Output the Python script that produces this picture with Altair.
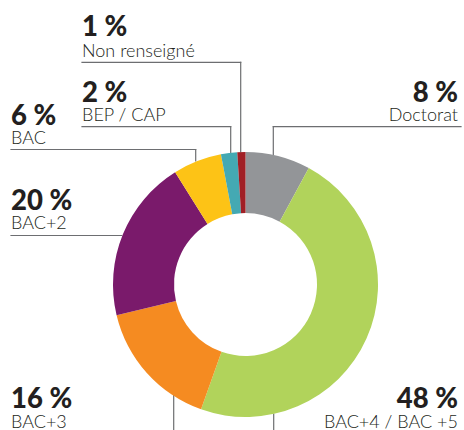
import altair as alt
import pandas as pd

# ---- data ----
categories = ["Doctorat", "BAC+4 / BAC +5", "BAC+3", "BAC+2", "BAC", "BEP / CAP", "Non renseigné"]
values = [8, 48, 16, 20, 6, 2, 1]
pct_labels = ["8 %", "48 %", "16 %", "20 %", "6 %", "2 %", "1 %"]
colors = ["#939598", "#b1d35b", "#f58b21", "#7a1a6b", "#fdc316", "#44a9b3", "#a11f25"]

# ---- annotation layout (pixel space of the 464x430 canvas) ----
label_x = [458, 458, 11, 11, 11, 82, 82]
label_align = ["right", "right", "left", "left", "left", "left", "left"]
pct_baseline = [102, 407.5, 407.5, 210, 125, 102, 36]
name_baseline = [121, 428, 428, 228.5, 143.5, 121, 56.5]

leader_x = [461, 273.3, 273.7, 173.7, 11, 11, 195.7, 82, 230.7, 82, 240.7]
leader_y = [126.7, 126.7, 414, 395, 235.5, 149.5, 149.5, 126.7, 126.7, 62.3, 62.3]
leader_x2 = [273.3, 273.3, 273.7, 173.7, 121.7, 195.7, 195.7, 230.7, 230.7, 240.7, 240.7]
leader_y2 = [126.7, 157, 430, 430, 235.5, 149.5, 161, 126.7, 154, 62.3, 152]

W, H = 464, 430
CX, CY, R_OUT, R_IN = 245.5, 284.5, 132.5, 71.5

df = pd.DataFrame({
    "cat": categories,
    "value": values,
    "pct": pct_labels,
    "idx": list(range(len(categories))),
    "lx": label_x,
    "align": label_align,
    "py": pct_baseline,
    "ny": name_baseline,
})
leaders = pd.DataFrame({"x": leader_x, "y": leader_y, "x2": leader_x2, "y2": leader_y2})

xs = alt.Scale(domain=[0, W], range=[0, W], nice=False, zero=False)
ys = alt.Scale(domain=[0, H], range=[0, H], nice=False, zero=False)

donut = alt.Chart(df).mark_arc(outerRadius=R_OUT, innerRadius=R_IN, stroke=None).encode(
    theta=alt.Theta("value:Q", stack=True),
    order=alt.Order("idx:Q", sort="ascending"),
    color=alt.Color("cat:N", scale=alt.Scale(domain=categories, range=colors), legend=None),
    x=alt.value(CX),
    y=alt.value(CY),
)

rules = alt.Chart(leaders).mark_rule(color="#6d6e71", strokeWidth=1.2, strokeCap="square").encode(
    x=alt.X("x:Q", scale=xs, axis=None),
    y=alt.Y("y:Q", scale=ys, axis=None),
    x2="x2:Q",
    y2="y2:Q",
)

def text_layer(field, yfield, align, font_weight, size, color):
    return alt.Chart(df).transform_filter(
        alt.datum.align == align
    ).mark_text(
        align=align, baseline="alphabetic", font="Lato", fontWeight=font_weight,
        fontSize=size, color=color,
    ).encode(
        x=alt.X("lx:Q", scale=xs, axis=None),
        y=alt.Y(f"{yfield}:Q", scale=ys, axis=None),
        text=f"{field}:N",
    )

layers = [rules, donut]
for a in ["left", "right"]:
    layers.append(text_layer("pct", "py", a, 900, 27.5, "#231f20"))
    layers.append(text_layer("cat", "ny", a, 300, 18, "#231f20"))

chart = alt.layer(*layers).properties(
    width=W, height=H, autosize=alt.AutoSizeParams(type="none"), padding=0,
).configure_view(stroke=None)

chart.save("out.html", embed_options={"renderer": "svg", "actions": False})
